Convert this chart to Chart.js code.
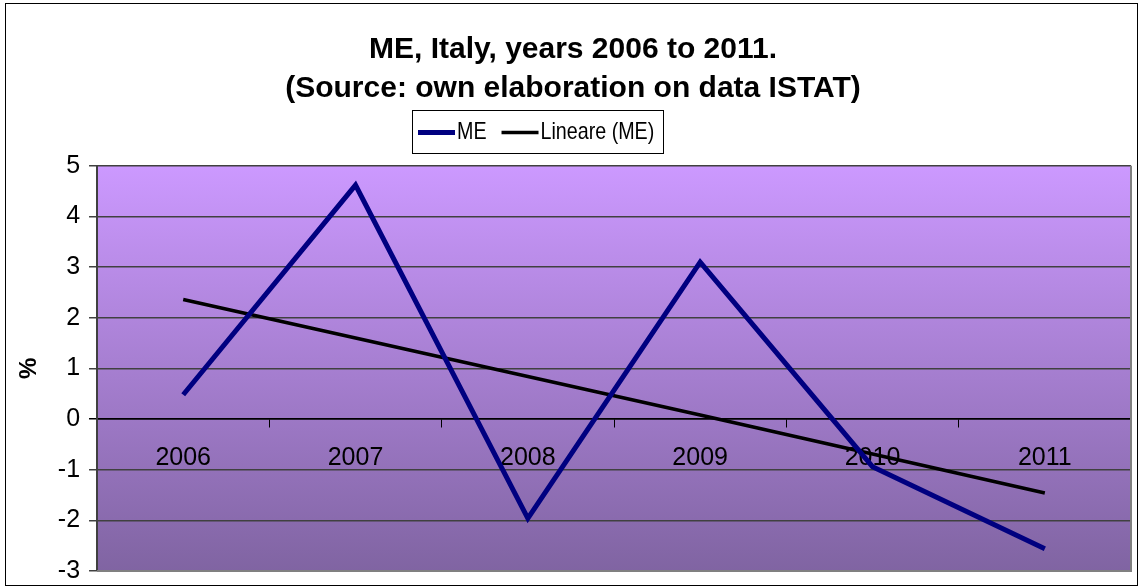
<!DOCTYPE html>
<html>
<head>
<meta charset="utf-8">
<script src="https://cdn.jsdelivr.net/npm/chart.js@4.4.0/dist/chart.umd.min.js"></script>
<style>
  body { margin: 0; background: #fff; }
  #box { position: absolute; left: 5px; top: 3px; width: 1131px; height: 581px; border: 1px solid #000; overflow: hidden; }
  canvas { display: block; }
</style>
</head>
<body>
<div id="box"><canvas id="grafico" width="1131" height="591"></canvas></div>
<script>
// valori
var anni = ['2006', '2007', '2008', '2009', '2010', '2011'];
var valoriME = [0.48, 4.62, -1.96, 3.1, -0.94, -2.56];
var lineareME = [2.36, 1.6, 0.84, 0.08, -0.69, -1.46];
var titolo = ['ME, Italy, years 2006 to 2011.', '(Source: own elaboration on data ISTAT)'];

var sfondo = {
  id: 'sfondo',
  beforeDraw: function (chart) {
    var a = chart.chartArea, ctx = chart.ctx;
    var g = ctx.createLinearGradient(0, a.top, 0, a.bottom);
    g.addColorStop(0, '#cc99ff');
    g.addColorStop(1, '#8064a2');
    ctx.save();
    ctx.fillStyle = g;
    ctx.fillRect(a.left, a.top, a.right - a.left, a.bottom - a.top);
    ctx.restore();
  },
  afterDatasetsDraw: function (chart) {
    var a = chart.chartArea, ctx = chart.ctx;
    ctx.save();
    ctx.strokeStyle = '#808080';
    ctx.lineWidth = 2;
    ctx.beginPath();
    ctx.moveTo(a.left, a.bottom);
    ctx.lineTo(a.right, a.bottom);
    ctx.lineTo(a.right, a.top);
    ctx.stroke();
    ctx.restore();
  },
  afterDraw: function (chart) {
    // legenda disegnata a mano, con cornice
    var ctx = chart.ctx;
    var x = 406, y = 106, w = 251, h = 43;
    var stretto = 0.82;
    ctx.save();
    ctx.fillStyle = '#fff';
    ctx.fillRect(x, y, w, h);
    ctx.strokeStyle = '#000';
    ctx.lineWidth = 1;
    ctx.strokeRect(x + 0.5, y + 0.5, w, h);
    ctx.font = '24px "Liberation Sans"';
    ctx.textBaseline = 'middle';
    ctx.fillStyle = '#000';
    var cx = x + 6, cy = y + h / 2 + 1;
    chart.data.datasets.forEach(function (ds) {
      ctx.strokeStyle = ds.borderColor;
      ctx.lineWidth = ds.borderWidth;
      ctx.beginPath();
      ctx.moveTo(cx, cy);
      ctx.lineTo(cx + 37, cy);
      ctx.stroke();
      ctx.save();
      ctx.translate(cx + 39, cy);
      ctx.scale(stretto, 1);
      ctx.fillText(ds.label, 0, 0);
      ctx.restore();
      cx += 39 + ctx.measureText(ds.label).width * stretto + 15;
    });
    ctx.restore();
  }
};

var ctx = document.getElementById('grafico').getContext('2d');
var grafico = new Chart(ctx, {
  type: 'line',
  data: {
    labels: anni,
    datasets: [{
      label: 'ME',
      data: valoriME,
      borderColor: '#000080',
      backgroundColor: '#000080',
      borderWidth: 5,
      pointRadius: 0,
      tension: 0
    }, {
      label: 'Lineare (ME)',
      data: lineareME,
      borderColor: '#000000',
      backgroundColor: '#000000',
      borderWidth: 3.5,
      pointRadius: 0,
      tension: 0
    }]
  },
  options: {
    responsive: false,
    animation: false,
    layout: { padding: { left: 9, right: 6, bottom: 0, top: 11 } },
    plugins: {
      title: {
        display: true,
        text: titolo,
        color: '#000',
        font: { family: 'Liberation Sans', size: 30, weight: 'bold', lineHeight: 1.28 },
        padding: { top: 16, bottom: 58 }
      },
      legend: { display: false },
      tooltip: { enabled: false }
    },
    scales: {
      x: {
        position: { y: 0 },
        offset: true,
        grid: {
          drawOnChartArea: false,
          drawTicks: true,
          tickLength: 8,
          color: '#000',
          offset: true
        },
        border: { color: '#000', width: 1.5 },
        ticks: {
          color: '#000',
          font: { family: 'Liberation Sans', size: 25 },
          padding: 16
        }
      },
      y: {
        min: -3,
        max: 5,
        title: {
          display: true,
          text: '%',
          color: '#000',
          font: { family: 'Liberation Sans', size: 24, weight: 'bold', lineHeight: 1.2 },
          padding: { top: 0, bottom: 5 }
        },
        grid: {
          color: function (c) { return c.tick && c.tick.value === 0 ? '#000' : '#404040'; },
          lineWidth: 1.5,
          tickLength: 8
        },
        border: { color: '#404040', width: 2 },
        ticks: {
          stepSize: 1,
          color: '#000',
          font: { family: 'Liberation Sans', size: 25 },
          padding: 9
        }
      }
    }
  },
  plugins: [sfondo]
});
</script>
</body>
</html>
